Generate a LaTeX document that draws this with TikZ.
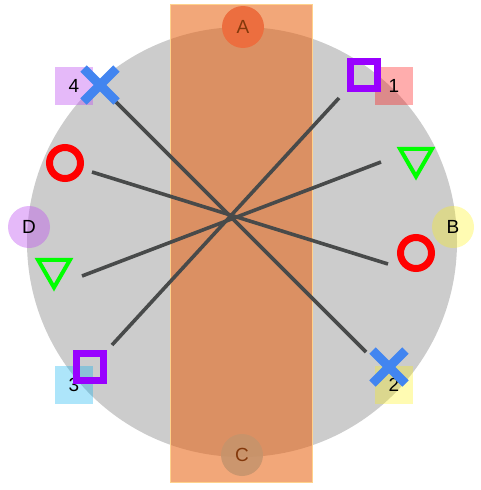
\documentclass[tikz,border=0pt]{standalone}
\usepackage{fontspec}
\setmainfont{Liberation Sans}
\usetikzlibrary{shapes.geometric,shapes.misc}
\definecolor{bgray}{RGB}{204,204,204}
\definecolor{rectorange}{RGB}{232,100,20}
\definecolor{rectedge}{RGB}{255,210,140}
\definecolor{acol}{RGB}{242,125,120}
\definecolor{ccol}{RGB}{150,210,225}
\definecolor{dcol}{RGB}{190,80,240}
\definecolor{linegray}{RGB}{72,74,74}
\definecolor{xblue}{RGB}{66,133,240}
\definecolor{sqpurple}{RGB}{153,0,255}
\definecolor{trigreen}{RGB}{0,255,0}
\tikzset{
  lbl/.style={circle,minimum size=42pt,inner sep=0pt,font=\fontsize{19}{21}\selectfont},
  numbox/.style={rectangle,minimum size=38pt,inner sep=0pt,font=\fontsize{19}{21}\selectfont},
  conn/.style={draw=linegray,line width=3.6pt},
  xmark/.style={cross out,draw=xblue,line width=9pt,minimum size=24pt,inner sep=0pt},
  sqmark/.style={rectangle,draw=sqpurple,line width=7pt,minimum size=27pt,inner sep=0pt},
  ringmark/.style={circle,draw=red,line width=7pt,minimum size=31pt,inner sep=0pt},
  trimark/.style={regular polygon,regular polygon sides=3,shape border rotate=180,draw=trigreen,line width=4pt,minimum size=37pt,inner sep=0pt}
}
\begin{document}
\begin{tikzpicture}[x=1pt,y=-1pt]
\useasboundingbox (0,0) rectangle (480,490);
% big gray disc
\fill[bgray] (242,242) circle (215);
% side labels
\node[lbl,fill=acol] (A) at (243,27) {A};
\node[lbl,fill=yellow,fill opacity=0.3,text opacity=1] (B) at (453,227) {B};
\node[lbl,fill=ccol,fill opacity=0.85,text opacity=1] (C) at (242,455) {C};
\node[lbl,fill=dcol,fill opacity=0.4,text opacity=1] (D) at (29,227) {D};
% numbered boxes
\node[numbox,fill=red,fill opacity=0.32,text opacity=1] (n1) at (394,86) {1};
\node[numbox,fill=yellow,fill opacity=0.3,text opacity=1] (n2) at (394,385) {2};
\node[numbox,fill=cyan,fill opacity=0.32,text opacity=1] (n3) at (74,385) {3};
\node[numbox,fill=dcol,fill opacity=0.4,text opacity=1] (n4) at (74,86) {4};
% orange band
\fill[rectorange,fill opacity=0.57] (170,4) rectangle (312,482);
\draw[rectedge,line width=1pt] (170,4) rectangle (312,482);
% line end points
\coordinate (eXul) at (113,99);
\coordinate (eXlr) at (366,352);
\coordinate (eSur) at (339,98);
\coordinate (eSll) at (112,345);
\coordinate (eTr) at (381,162);
\coordinate (eTl) at (82,276);
\coordinate (eOl) at (92,172);
\coordinate (eOr) at (388,264);
\draw[conn] (eXul) -- (eXlr);
\draw[conn] (eSur) -- (eSll);
\draw[conn] (eTr) -- (eTl);
\draw[conn] (eOl) -- (eOr);
% markers
\node[xmark] (xul) at (100,85) {};
\node[xmark] (xlr) at (389,367) {};
\node[sqmark] (sur) at (364,75) {};
\node[sqmark] (sll) at (90,367) {};
\node[trimark] (tr) at (416,158) {};
\node[trimark] (tl) at (54,269) {};
\node[ringmark] (ol) at (65,163) {};
\node[ringmark] (or) at (416,253) {};
\end{tikzpicture}
\end{document}
